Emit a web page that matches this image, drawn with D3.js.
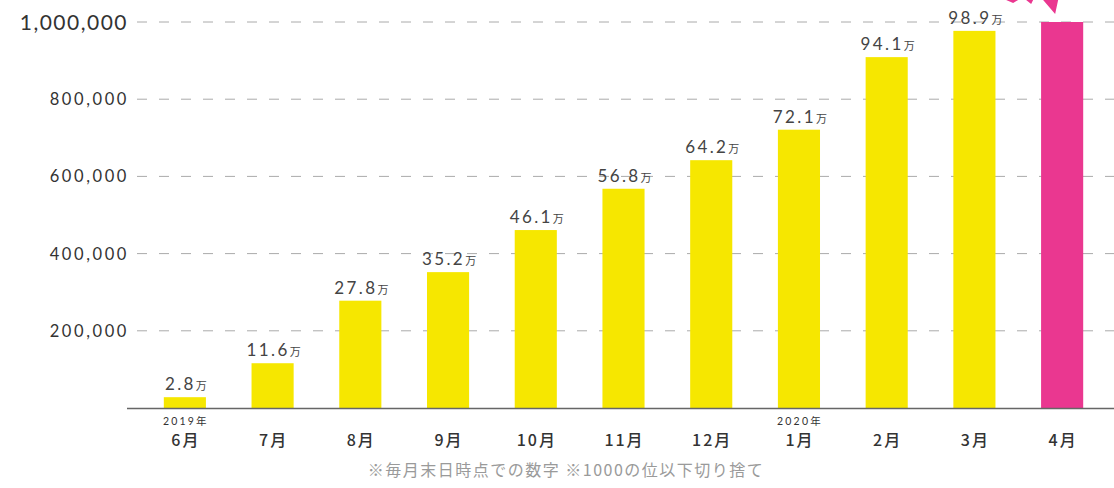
<!DOCTYPE html>
<html><head><meta charset="utf-8">
<script src="https://cdn.jsdelivr.net/npm/d3@7"></script>
<style>
html,body{margin:0;padding:0;background:#fff;}
svg{display:block;}
</style></head>
<body>
<svg id="chart" width="1114" height="488"></svg>
<script>
const months = ["6月","7月","8月","9月","10月","11月","12月","1月","2月","3月","4月"];
const yearTags = ["2019年","","","","","","","2020年","","",""];
const barValues = [28000,116000,278000,352000,461000,568000,642000,721000,909000,977000,1000000];
const valueLabels = ["2.8","11.6","27.8","35.2","46.1","56.8","64.2","72.1","94.1","98.9",""];
const highlight = [false,false,false,false,false,false,false,false,false,false,true];
const yTicks = [200000,400000,600000,800000,1000000];
const footnote = "※毎月末日時点での数字 ※1000の位以下切り捨て";

const YELLOW = "#F6E700", PINK = "#EA3790";
const svg = d3.select("#chart");
const font = "Lato, 'Noto Sans CJK JP', sans-serif";

const x = d3.scaleBand().domain(months).range([141, 1106]).paddingInner(0.52).paddingOuter(0.26);
const y = d3.scaleLinear().domain([0, 1000000]).range([408, 22]);

// gridlines
svg.append("g").selectAll("line").data(yTicks).join("line")
  .attr("x1", 137).attr("x2", 1114)
  .attr("y1", d => y(d)).attr("y2", d => y(d))
  .attr("stroke", "#aaa").attr("stroke-width", 1).attr("stroke-dasharray", "10,12");

// y labels
svg.append("g").selectAll("text").data(yTicks).join("text")
  .attr("x", d => d === 1000000 ? 128 : 129)
  .attr("y", d => y(d))
  .attr("dy", "0.36em")
  .attr("text-anchor", "end")
  .attr("font-family", font)
  .attr("font-size", d => d === 1000000 ? 21 : 16.5)
  .attr("letter-spacing", d => d === 1000000 ? "1.5px" : "2.6px")
  .attr("fill", "#333")
  .text(d => d3.format(",")(d));

// burst fragment above last bar (decoration cut off by top edge)
const cx = x("4月") + x.bandwidth() / 2;
svg.append("path")
  .attr("d", `M${cx-19},0 L${cx-4},0 L${cx-7},14 Z M${cx-56},0 L${cx-44},0 L${cx-49},3 Z M${cx-36},0 L${cx-29},0 L${cx-31},4 Z`)
  .attr("fill", PINK);

// bars
svg.append("g").selectAll("rect").data(months).join("rect")
  .attr("x", d => x(d))
  .attr("width", x.bandwidth())
  .attr("y", (d, i) => y(barValues[i]))
  .attr("height", (d, i) => y(0) - y(barValues[i]))
  .attr("fill", (d, i) => highlight[i] ? PINK : YELLOW);

// baseline
svg.append("line").attr("x1", 127).attr("x2", 1114).attr("y1", 408.5).attr("y2", 408.5)
  .attr("stroke", "#666").attr("stroke-width", 1.5);

// value labels
const vl = svg.append("g").selectAll("text").data(months).join("text")
  .filter((d, i) => valueLabels[i] !== "")
  .attr("x", d => x(d) + x.bandwidth() / 2 + 1)
  .attr("y", (d) => y(barValues[months.indexOf(d)]) - 7)
  .attr("text-anchor", "middle")
  .attr("font-family", font)
  .attr("fill", "#444");
vl.append("tspan").attr("font-size", 17).attr("letter-spacing", "2.4px")
  .text(d => valueLabels[months.indexOf(d)]);
vl.append("tspan").attr("font-size", 11).attr("font-family", "'Noto Sans CJK JP', sans-serif").text("万");

// month labels
svg.append("g").selectAll("text").data(months).join("text")
  .attr("x", d => x(d) + x.bandwidth() / 2 + 1)
  .attr("y", 446)
  .attr("text-anchor", "middle")
  .attr("font-family", "'Noto Sans CJK JP', sans-serif")
  .attr("font-weight", 500)
  .attr("font-size", 16)
  .attr("letter-spacing", "2px")
  .attr("fill", "#333")
  .text(d => d);

// year tags
svg.append("g").selectAll("text").data(months).join("text")
  .filter((d, i) => yearTags[i] !== "")
  .attr("x", d => x(d) + x.bandwidth() / 2 + 1)
  .attr("y", 425)
  .attr("text-anchor", "middle")
  .attr("font-family", font)
  .attr("font-size", 10.5)
  .attr("letter-spacing", "2.2px")
  .attr("fill", "#333")
  .text(d => yearTags[months.indexOf(d)]);

// footnote
svg.append("text").attr("x", 566).attr("y", 476).attr("text-anchor", "middle")
  .attr("font-family", "'Noto Sans CJK JP', sans-serif").attr("font-size", 16)
  .attr("letter-spacing", "1.5px")
  .attr("fill", "#9a9a9a").text(footnote);
</script>
</body></html>
